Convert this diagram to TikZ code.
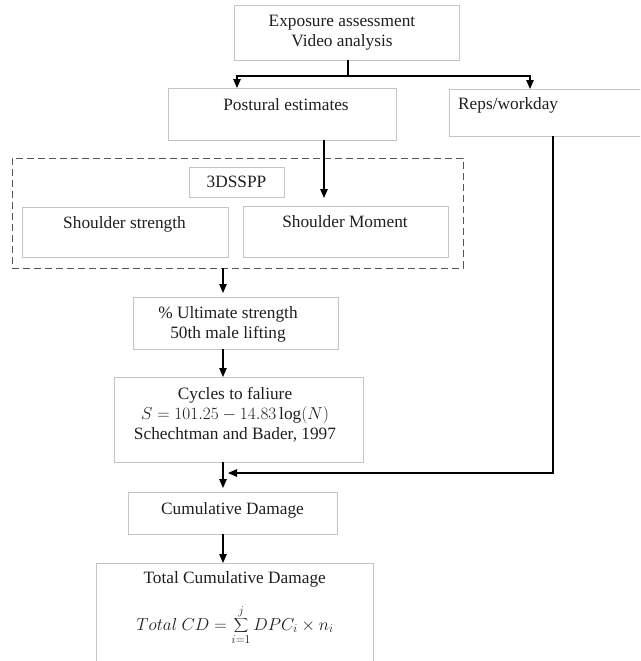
\documentclass[tikz,border=0pt]{standalone}
\usepackage{fontspec}
\setmainfont{Liberation Serif}
\usetikzlibrary{arrows.meta, positioning, calc}
\definecolor{boxline}{RGB}{196,196,196}
\definecolor{dashline}{RGB}{85,85,85}
\definecolor{inktext}{RGB}{30,30,30}
\tikzset{
	flowbox/.style={draw=boxline, line width=0.9pt, inner sep=0pt, outer sep=0pt}
}
\tikzset{
	groupbox/.style={draw=dashline, line width=1pt, dash pattern=on 7pt off 4pt, inner sep=0pt, outer sep=0pt}
}
\tikzset{
	flowtext/.style={text=inktext, align=center, inner sep=0pt}
}
\tikzset{
	flowarrow/.style={-{Triangle[length=9pt,width=7.5pt]}, line width=1.1pt}
}

\begin{document}
\begin{tikzpicture}[x=1pt, y=-1pt, font=\fontsize{17.3}{20}\selectfont]
      \useasboundingbox (0,0) rectangle (640,661);
      \clip (0,0) rectangle (640,661);
      % boxes
      \node[flowbox, minimum width=225pt, minimum height=55pt] (expo) at (346.5,32.5) {};
      \node[flowbox, minimum width=228pt, minimum height=52pt] (post) at (282,114) {};
      \node[flowbox, minimum width=211pt, minimum height=47pt] (reps) at (554.5,112.5) {};
      \node[groupbox, minimum width=451pt, minimum height=110pt] (group) at (237.5,213) {};
      \node[flowbox, minimum width=95pt, minimum height=30pt] (sspp) at (236.5,182) {};
      \node[flowbox, minimum width=206pt, minimum height=50pt] (sstr) at (125,232) {};
      \node[flowbox, minimum width=205pt, minimum height=51pt] (smom) at (345.5,231.5) {};
      \node[flowbox, minimum width=205pt, minimum height=52pt] (ultim) at (235.5,323) {};
      \node[flowbox, minimum width=249pt, minimum height=85pt] (cycle) at (238.5,419.5) {};
      \node[flowbox, minimum width=209pt, minimum height=42pt] (cumd) at (232.5,513) {};
      \node[flowbox, minimum width=277pt, minimum height=117pt] (total) at (234.5,621.5) {};
      % texts
      \node[flowtext] (expoT) at (342,32.5) {Exposure assessment\\Video analysis};
      \node[flowtext] (postT) at (286,105) {Postural estimates};
      \node[flowtext, anchor=west] (repsT) at (458,105) {Reps/workday};
      \node[flowtext] (ssppT) at (236.5,182) {3DSSPP};
      \node[flowtext] (sstrT) at (124.5,224) {Shoulder strength};
      \node[flowtext] (smomT) at (345,222) {Shoulder Moment};
      \node[flowtext] (ultimT) at (228,324.5) {\% Ultimate strength\\50th male lifting};
      \node[flowtext] (cycleT) at (235,414.5) {Cycles to faliure\\$S=101.25-14.83\log(N)$\\Schechtman and Bader, 1997};
      \node[flowtext] (cumdT) at (232.5,510) {Cumulative Damage};
      \node[flowtext] (totalT) at (234.7,579) {Total Cumulative Damage};
      \node[flowtext] (eqT) at (235,625) {$\displaystyle Total\ CD=\sum_{i=1}^{j} DPC_i\times n_i$};
      % connectors
      \coordinate (split) at (348,76);
      \coordinate (spine) at (223,0);
      \coordinate (merge) at (223,473);
      \draw[line width=1.1pt] (expo.south -| split) -- (split);
      \draw[flowarrow] (split) -| ([xshift=-45pt]post.north);
      \draw[flowarrow] (split) -| ([xshift=81pt]reps.north west);
      \draw[flowarrow] ([xshift=42pt]post.south) -- ++(0,58);
      \draw[flowarrow] (group.south -| spine) -- ([yshift=4pt]ultim.north -| spine);
      \draw[flowarrow] (ultim.south -| spine) -- (cycle.north -| spine);
      \draw[flowarrow] (cycle.south -| spine) -- ([yshift=4pt]cumd.north -| spine);
      \draw[flowarrow] ([xshift=104pt]reps.south west) |- ([xshift=5pt]merge);
      \draw[flowarrow] (cumd.south -| spine) -- (total.north -| spine);
    \end{tikzpicture}
\end{document}
